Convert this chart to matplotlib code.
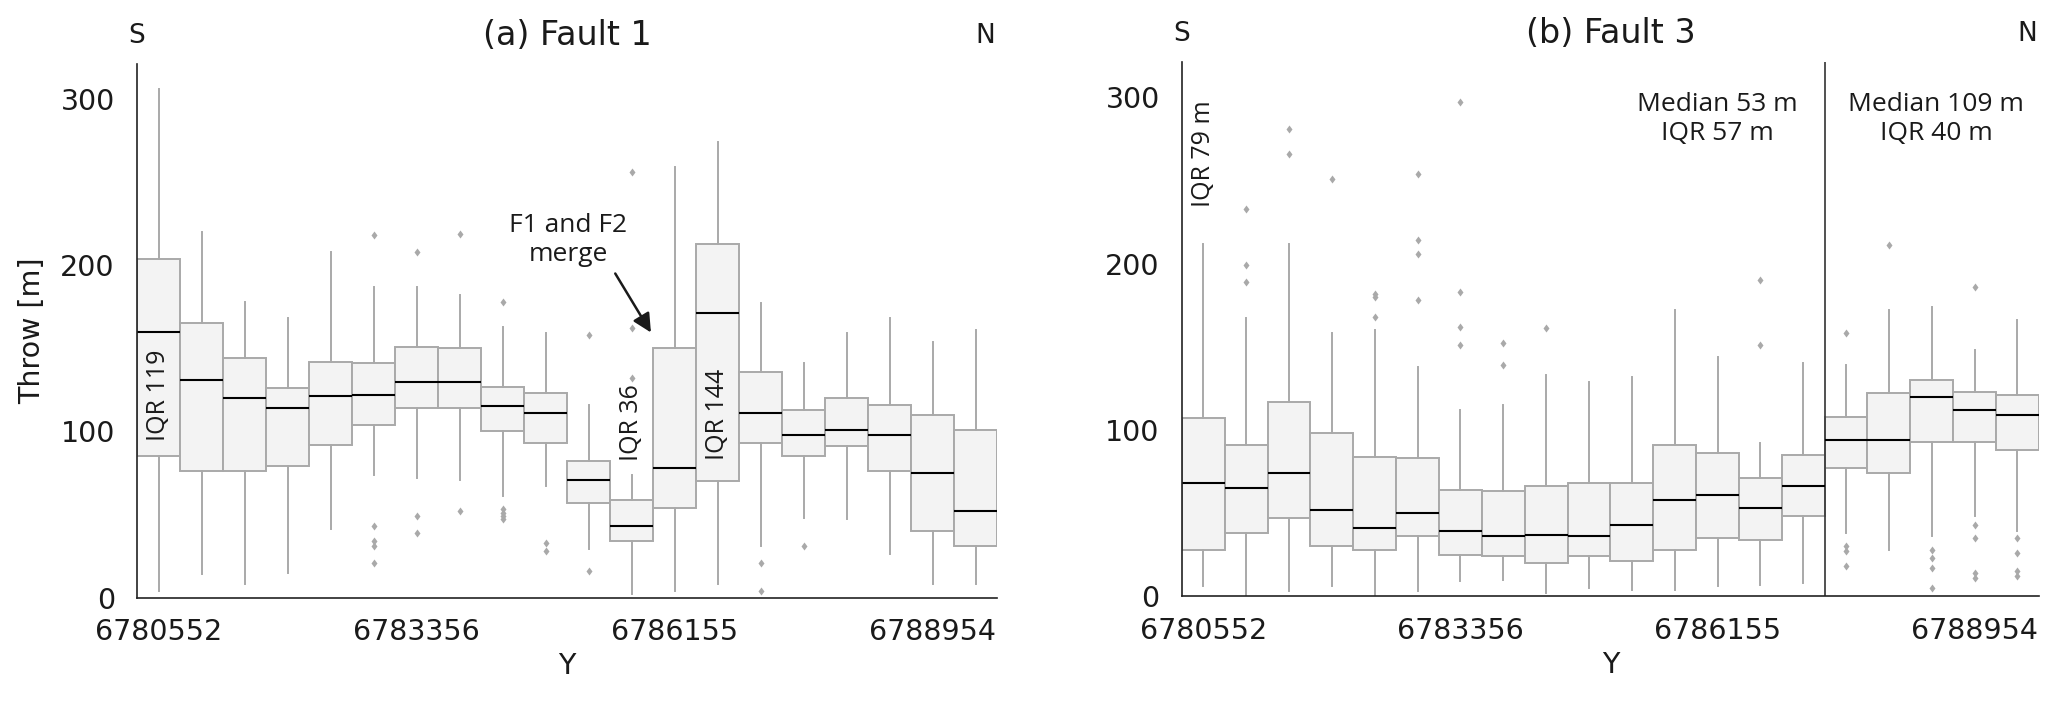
import matplotlib
matplotlib.use('Agg')
import matplotlib.pyplot as plt
from matplotlib import font_manager

# tick positions / labels along Y (northing)
tick_pos = [0, 6, 12, 18]
tick_labels = ['6780552', '6783356', '6786155', '6788954']

# Fault 1 box statistics (m)
f1_q3 = [204, 165, 144, 126, 142, 141, 151, 150, 127, 123, 82, 59, 150, 213, 136, 113, 120, 116, 110, 101]
f1_med = [160, 131, 120, 114, 121, 122, 130, 130, 115, 111, 71, 43, 78, 171, 111, 98, 101, 98, 75, 52]
f1_q1 = [85, 76, 76, 79, 92, 104, 114, 114, 100, 93, 57, 34, 54, 70, 93, 85, 91, 76, 40, 31]
f1_hi = [306, 220, 178, 168, 208, 187, 187, 182, 163, 159, 116, 74, 259, 274, 177, 141, 159, 168, 154, 161]
f1_lo = [4, 14, 8, 15, 41, 74, 72, 71, 61, 67, 29, 2, 4, 8, 31, 48, 47, 26, 8, 8]
f1_fliers = [[], [], [], [], [], [218, 43, 34, 31, 21], [208, 49, 39], [219, 52],
             [178, 53, 51, 49, 47], [33, 28], [158, 16], [256, 162, 132], [], [],
             [21, 4], [31], [], [], [], []]

# Fault 3 box statistics (m)
f3_q3 = [107, 91, 117, 98, 84, 83, 64, 63, 66, 68, 68, 91, 86, 71, 85, 108, 122, 130, 123, 121]
f3_med = [68, 65, 74, 52, 41, 50, 39, 36, 37, 36, 43, 58, 61, 53, 66, 94, 94, 120, 112, 109]
f3_q1 = [28, 38, 47, 30, 28, 36, 25, 24, 20, 24, 21, 28, 35, 34, 48, 77, 74, 93, 93, 88]
f3_hi = [212, 167, 212, 158, 160, 138, 112, 115, 133, 129, 132, 172, 144, 92, 140, 139, 172, 174, 148, 166]
f3_lo = [6, 1, 3, 6, 0.5, 3, 9, 10, 2, 5, 4, 4, 6, 7, 8, 38, 28, 36, 48, 39]
f3_fliers = [[], [233, 199, 189], [281, 266], [251], [182, 180, 168], [254, 214, 206, 178],
             [297, 183, 162, 151], [152, 139], [161], [], [], [], [], [190, 151], [],
             [158, 30, 27, 18], [211], [28, 23, 17, 5], [186, 43, 35, 14, 11], [35, 26, 15, 12]]

GREY = '#a9a9a9'
TXT = '#1a1a1a'


def pick_font(names):
    for n in names:
        try:
            font_manager.findfont(font_manager.FontProperties(family=n), fallback_to_default=False)
            return n
        except ValueError:
            continue
    return 'DejaVu Sans'


ann_font = pick_font(['Open Sans', 'Lato', 'DejaVu Sans'])


def make_stats(q1, med, q3, lo, hi, fl):
    return [dict(q1=a, med=b, q3=c, whislo=d, whishi=e, fliers=f)
            for a, b, c, d, e, f in zip(q1, med, q3, lo, hi, fl)]


def draw_panel(ax, stats, title):
    ax.bxp(stats, positions=range(len(stats)), widths=1.0, showcaps=False,
           patch_artist=True,
           boxprops=dict(facecolor='#f3f3f3', edgecolor=GREY, linewidth=1.4),
           medianprops=dict(color='black', linewidth=1.5),
           whiskerprops=dict(color=GREY, linewidth=1.4),
           flierprops=dict(marker='d', markerfacecolor=GREY, markeredgecolor='none', markersize=4.5))
    ax.set_xlim(-0.5, len(stats) - 0.5)
    ax.set_ylim(0, 321)
    ax.set_yticks([0, 100, 200, 300])
    ax.set_xticks(tick_pos)
    ax.set_xticklabels(tick_labels)
    ax.tick_params(length=0, labelsize=20.5, colors=TXT)
    ax.tick_params(axis='y', pad=16)
    ax.tick_params(axis='x', pad=15)
    for s in ['top', 'right']:
        ax.spines[s].set_visible(False)
    for s in ['left', 'bottom']:
        ax.spines[s].set_color('#222222')
        ax.spines[s].set_linewidth(1.2)
    ax.set_xlabel('Y', fontsize=20.5, color=TXT, labelpad=4)
    ax.text(0.5, 1.053, title, transform=ax.transAxes, ha='center', va='center', fontsize=24, color=TXT)
    ax.text(0.0, 1.053, 'S', transform=ax.transAxes, ha='center', va='center', fontsize=19, color=TXT)
    ax.text(0.986, 1.053, 'N', transform=ax.transAxes, ha='center', va='center', fontsize=19, color=TXT)


fig = plt.figure(figsize=(20.67, 7.03), dpi=100)
ax1 = fig.add_axes([0.0663, 0.150, 0.4161, 0.7588])
ax2 = fig.add_axes([0.5718, 0.1518, 0.4146, 0.7596])

draw_panel(ax1, make_stats(f1_q1, f1_med, f1_q3, f1_lo, f1_hi, f1_fliers), '(a) Fault 1')
draw_panel(ax2, make_stats(f3_q1, f3_med, f3_q3, f3_lo, f3_hi, f3_fliers), '(b) Fault 3')

ax1.set_ylabel('Throw [m]', fontsize=20.5, color=TXT, labelpad=10)

# annotations fault 1
ax1.text(0, 122, 'IQR 119', rotation=90, ha='center', va='center', fontsize=18, family=ann_font, color=TXT)
ax1.text(11, 105, 'IQR 36', rotation=90, ha='center', va='center', fontsize=18, family=ann_font, color=TXT)
ax1.text(13, 110, 'IQR 144', rotation=90, ha='center', va='center', fontsize=18, family=ann_font, color=TXT)
ax1.text(9.52, 215, 'F1 and F2\nmerge', ha='center', va='center', fontsize=19, family=ann_font,
         color=TXT, linespacing=1.2)
ax1.annotate('', xy=(11.45, 159.5), xytext=(10.62, 195),
             arrowprops=dict(arrowstyle='-|>', color=TXT, lw=1.8, mutation_scale=28,
                             shrinkA=0, shrinkB=0))

# annotations fault 3
ax2.axvline(14.5, color='#333333', linewidth=1.2)
ax2.text(0, 266, 'IQR 79 m', rotation=90, ha='center', va='center', fontsize=18, family=ann_font, color=TXT)
ax2.text(12.0, 287, 'Median 53 m\nIQR 57 m', ha='center', va='center', fontsize=19,
         family=ann_font, color=TXT, linespacing=1.2)
ax2.text(17.1, 287, 'Median 109 m\nIQR 40 m', ha='center', va='center', fontsize=19,
         family=ann_font, color=TXT, linespacing=1.2)

fig.savefig('out.png', dpi=100)
